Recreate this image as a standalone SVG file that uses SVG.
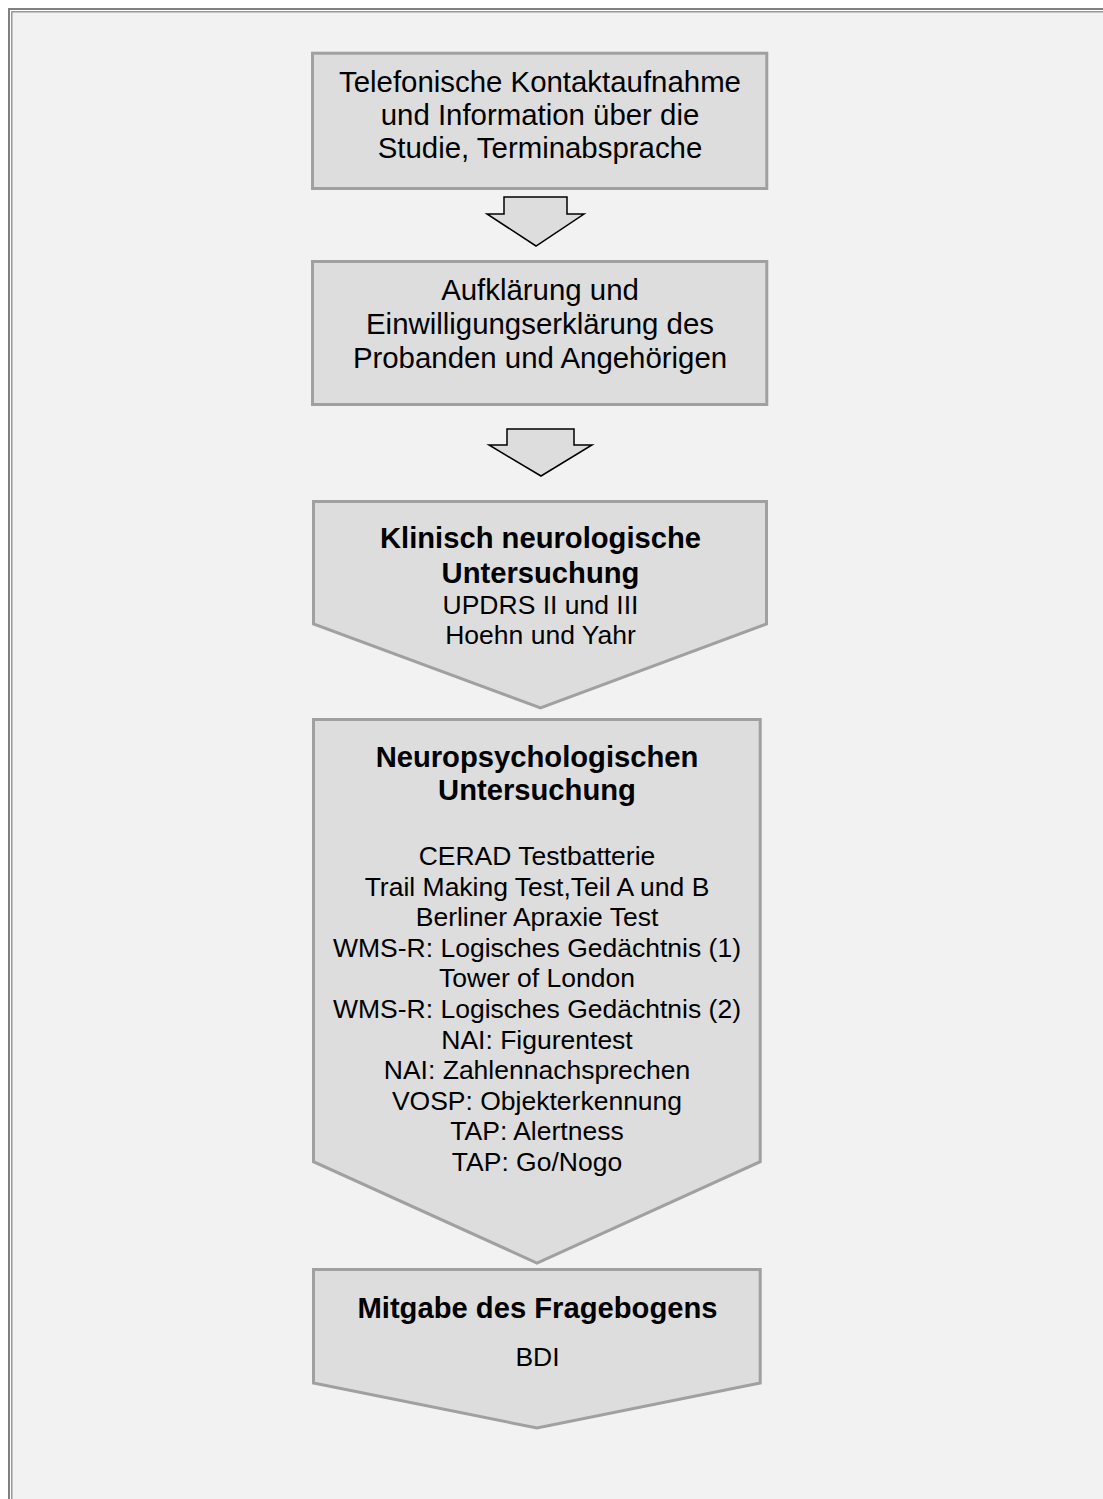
<svg xmlns="http://www.w3.org/2000/svg" width="1103" height="1499" viewBox="0 0 1103 1499">
<style>
.node{fill:#dddddd;stroke:#a0a0a0;stroke-width:3}
.conn{fill:#dddddd;stroke:#000;stroke-width:1.5;stroke-linejoin:miter}
text{font-family:"Liberation Sans",Arial,sans-serif;fill:#000;text-anchor:middle}
.t1{font-size:29.4px}
.t2{font-size:26.5px}
.b{font-size:29.2px;font-weight:bold}
</style>
<rect x="0" y="0" width="1103" height="1499" fill="#ffffff"/>
<rect x="12" y="12" width="1200" height="1600" fill="#f2f2f2"/>
<g id="frame" fill="none" stroke="#808080">
<rect x="9" y="9" width="1200" height="1600" stroke-width="2"/>
<rect x="11.8" y="11.8" width="1200" height="1600" stroke-width="1.2"/>
</g>
<g id="node1">
<rect class="node" x="312.5" y="53.2" width="454.3" height="135.3"/>
<text class="t1" x="540" y="91.7">Telefonische Kontaktaufnahme</text>
<text class="t1" x="540" y="125">und Information über die</text>
<text class="t1" x="540" y="158.3">Studie, Terminabsprache</text>
</g>
<g id="node2">
<rect class="node" x="312.5" y="261.5" width="454.3" height="143"/>
<text class="t1" x="540" y="300">Aufklärung und</text>
<text class="t1" x="540" y="333.5">Einwilligungserklärung des</text>
<text class="t1" x="540" y="368">Probanden und Angehörigen</text>
</g>
<g id="node3">
<polygon class="node" points="313.5,501.5 766.5,501.5 766.5,624 540.5,708 313.5,624"/>
<text class="b" x="540.5" y="548.3">Klinisch neurologische</text>
<text class="b" x="540.5" y="582.7">Untersuchung</text>
<text class="t2" x="540.5" y="614.3">UPDRS II und III</text>
<text class="t2" x="540.5" y="644.3">Hoehn und Yahr</text>
</g>
<g id="node4">
<polygon class="node" points="313.5,719.5 760.2,719.5 760.2,1161.7 537,1263 313.5,1161.7"/>
<text class="b" x="537" y="766.7">Neuropsychologischen</text>
<text class="b" x="537" y="800">Untersuchung</text>
<text class="t2" x="537" y="865">CERAD Testbatterie</text>
<text class="t2" x="537" y="895.6">Trail Making Test,Teil A und B</text>
<text class="t2" x="537" y="926.2">Berliner Apraxie Test</text>
<text class="t2" x="537" y="956.8">WMS-R: Logisches Gedächtnis (1)</text>
<text class="t2" x="537" y="987.4">Tower of London</text>
<text class="t2" x="537" y="1018">WMS-R: Logisches Gedächtnis (2)</text>
<text class="t2" x="537" y="1048.6">NAI: Figurentest</text>
<text class="t2" x="537" y="1079.2">NAI: Zahlennachsprechen</text>
<text class="t2" x="537" y="1109.8">VOSP: Objekterkennung</text>
<text class="t2" x="537" y="1140.4">TAP: Alertness</text>
<text class="t2" x="537" y="1171">TAP: Go/Nogo</text>
</g>
<g id="node5">
<polygon class="node" points="313.5,1269.5 760.2,1269.5 760.2,1383 537,1428 313.5,1383"/>
<text class="b" x="537.5" y="1318.3">Mitgabe des Fragebogens</text>
<text class="t2" x="537.5" y="1366">BDI</text>
</g>
<g id="connectors">
<polygon class="conn" points="504,197 567,197 567,214 584,214 536,246 487,214 504,214"/>
<polygon class="conn" points="507,429 574,429 574,445 592,445 541,476 489,445 507,445"/>
</g>
</svg>
